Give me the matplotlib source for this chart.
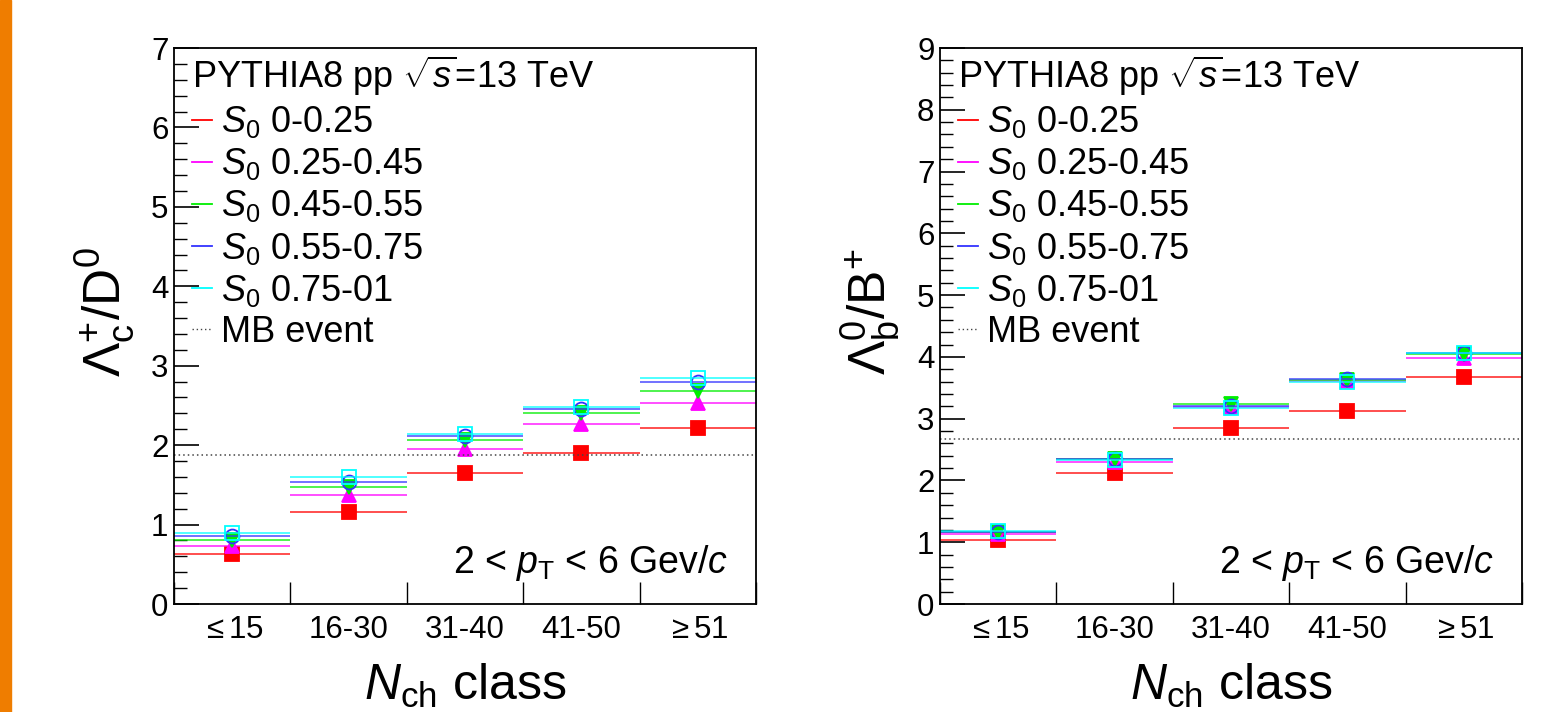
import numpy as np
import matplotlib.pyplot as plt
from matplotlib.lines import Line2D
from matplotlib.patches import Rectangle
from matplotlib.ticker import AutoMinorLocator, MultipleLocator

plt.rcParams['font.family'] = ['Liberation Sans', 'DejaVu Sans']
plt.rcParams['mathtext.fontset'] = 'custom'
plt.rcParams['mathtext.rm'] = 'Liberation Sans'
plt.rcParams['mathtext.it'] = 'Liberation Sans:italic'
plt.rcParams['mathtext.bf'] = 'Liberation Sans:bold'

# N_ch classes
classes = ['$\\leq$15', '16-30', '31-40', '41-50', '$\\geq$51']

s0_labels = ['0-0.25', '0.25-0.45', '0.45-0.55', '0.55-0.75', '0.75-01']
colors = ['#ff0000', '#ff00ff', '#00ee00', '#3333ff', '#00ffff']
markers = ['s', '^', 'v', 'o', 's']
filled = [True, True, True, False, False]

# Lambda_c+/D0 ratio per S0 class
lc_s0_1 = [0.63, 1.16, 1.65, 1.90, 2.22]
lc_s0_2 = [0.73, 1.37, 1.95, 2.27, 2.53]
lc_s0_3 = [0.80, 1.47, 2.06, 2.40, 2.68]
lc_s0_4 = [0.85, 1.54, 2.11, 2.45, 2.79]
lc_s0_5 = [0.90, 1.60, 2.14, 2.48, 2.85]
lc_mb = 1.87

# Lambda_b0/B+ ratio per S0 class
lb_s0_1 = [1.03, 2.12, 2.85, 3.12, 3.68]
lb_s0_2 = [1.14, 2.30, 3.19, 3.61, 3.99]
lb_s0_3 = [1.17, 2.34, 3.23, 3.625, 4.05]
lb_s0_4 = [1.16, 2.34, 3.205, 3.64, 4.07]
lb_s0_5 = [1.18, 2.33, 3.18, 3.60, 4.06]
lb_mb = 2.67

fig = plt.figure(figsize=(15.44, 7.12), dpi=100)
fig.patches.append(Rectangle((0, 0), 11 / 1544, 1, transform=fig.transFigure,
                             color='#ef7d00', zorder=0))


def draw_panel(ax, series, mb, ymax):
    edges = np.arange(len(classes) + 1)
    centers = edges[:-1] + 0.5
    for vals, c, m, f in zip(series, colors, markers, filled):
        ax.hlines(vals, edges[:-1], edges[1:], color=c, lw=1.3, alpha=0.75)
        ax.plot(centers, vals, ls='none', marker=m, ms=10,
                mfc=c if f else 'none', mec=c, mew=1.3)
    ax.axhline(mb, color='#444444', ls=(0, (1, 2)), lw=1.1)

    ax.set_xlim(0, len(classes))
    ax.set_ylim(0, ymax)
    ax.set_xticks(edges)
    ax.set_xticklabels([''] * len(edges))
    ax.set_xticks(centers, minor=True)
    ax.set_xticklabels(classes, minor=True)
    ax.tick_params(axis='x', which='major', direction='in', length=16, width=1)
    ax.tick_params(axis='x', which='minor', length=0, pad=8, labelsize=22.5)
    ax.yaxis.set_major_locator(MultipleLocator(1))
    ax.yaxis.set_minor_locator(AutoMinorLocator(5))
    ax.tick_params(axis='y', which='major', direction='in', length=18, width=1.2,
                   labelsize=22.5, pad=4)
    ax.tick_params(axis='y', which='minor', direction='in', length=9, width=1)
    for sp in ax.spines.values():
        sp.set_linewidth(1.3)

    handles = [Line2D([], [], color=c, lw=1.3) for c in colors]
    handles.append(Line2D([], [], color='#444444', ls=(0, (1, 2)), lw=1))
    labels = ['$S_{0}$ ' + s for s in s0_labels] + ['MB event']
    ax.legend(handles, labels, loc='upper left', bbox_to_anchor=(0.025, 0.996),
              frameon=False, title='PYTHIA8 pp $\\sqrt{s}$=13 TeV',
              alignment='left', fontsize=26, title_fontsize=26,
              handlelength=0.55, handletextpad=0.25, labelspacing=0.17,
              borderaxespad=0, borderpad=0.1)

    ax.text(0.952, 0.056, '2 < $p_{\\mathrm{T}}$ < 6 Gev/$c$', transform=ax.transAxes,
            ha='right', va='baseline', fontsize=27)


ax1 = fig.add_axes([174 / 1544, 1 - 604 / 712, 582 / 1544, 556 / 712])
draw_panel(ax1, [lc_s0_1, lc_s0_2, lc_s0_3, lc_s0_4, lc_s0_5], lc_mb, 7)
ax2 = fig.add_axes([940 / 1544, 1 - 604 / 712, 582 / 1544, 556 / 712])
draw_panel(ax2, [lb_s0_1, lb_s0_2, lb_s0_3, lb_s0_4, lb_s0_5], lb_mb, 9)

fig.text(104 / 1544, 1 - 312 / 712, '$\\Lambda_{\\mathrm{c}}^{+}/\\mathrm{D}^{0}$',
         rotation=90, ha='center', va='center', fontsize=37)
fig.text(870 / 1544, 1 - 312 / 712, '$\\Lambda_{\\mathrm{b}}^{0}/\\mathrm{B}^{+}$',
         rotation=90, ha='center', va='center', fontsize=37)
for xc in [465, 1231]:
    fig.text(xc / 1544, 1 - 700 / 712, '$N_{\\mathrm{ch}}$ class',
             ha='center', va='baseline', fontsize=36)

fig.savefig('out.png', dpi=100)
